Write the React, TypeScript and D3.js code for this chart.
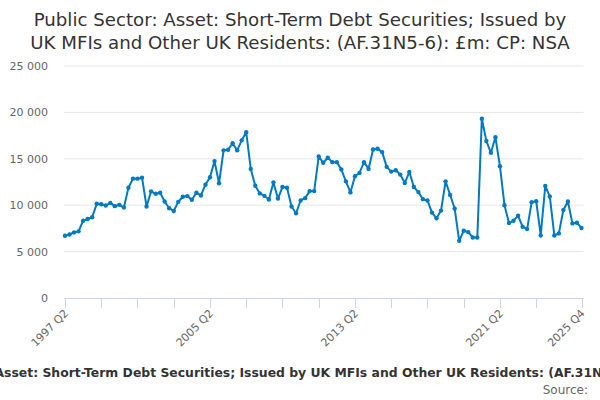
import React from 'react';
import * as d3 from 'd3';

// quarterly values, £m, 1997 Q2 .. 2025 Q4
const values = [
  6700, 6850, 7070, 7180, 8330, 8510, 8700, 10150, 10110, 9960,
  10250, 9900, 10040, 9750, 11880, 12860, 12860, 12970, 9860, 11490,
  11230, 11340, 10400, 9670, 9380, 10360, 10910, 10980, 10580, 11340,
  11050, 12210, 13010, 14750, 12360, 15910, 15980, 16670, 15910, 16990,
  17860, 13910, 12100, 11270, 11010, 10620, 12460, 10720, 11960, 11880,
  9860, 9130, 10510, 10760, 11520, 11520, 15250, 14570, 15110, 14640,
  14640, 13840, 12570, 11380, 13120, 13480, 14640, 13910, 16010, 16090,
  15720, 14130, 13620, 13770, 13300, 12390, 13590, 11960, 11410, 10650,
  10510, 9200, 8590, 9420, 12570, 11110, 9650, 6160, 7250, 7100,
  6520, 6520, 19310, 16920, 15650, 17320, 14200, 10000, 8080, 8330,
  8880, 7680, 7430, 10330, 10430, 6740, 12070, 10940, 6740, 6960,
  9490, 10400, 8040, 8110, 7540,
];

const startYear = 1997;
const startQuarter = 2;
const quarters = values.map((_, i) => {
  const q = startQuarter - 1 + i;
  return `${startYear + Math.floor(q / 4)} Q${(q % 4) + 1}`;
});

const yTicks = [0, 5000, 10000, 15000, 20000, 25000];
const tickIndexes = [0, 8, 16, 24, 32, 40, 48, 56, 64, 72, 80, 88, 96, 104, 114];
const labelled = ['1997 Q2', '2005 Q2', '2013 Q2', '2021 Q2', '2025 Q4'];

const titleLines = [
  'Public Sector: Asset: Short-Term Debt Securities; Issued by',
  'UK MFIs and Other UK Residents: (AF.31N5-6): £m: CP: NSA',
];
const axisTitle =
  'Public Sector: Asset: Short-Term Debt Securities; Issued by UK MFIs and Other UK Residents: (AF.31N5-6): £m: CP: NSA';

const W = 600;
const H = 400;
const left = 65;
const right = 581.5;
const top = 66;
const bottom = 298;
const font = '"DejaVu Sans", Verdana, sans-serif';
const blue = '#007ac3';

export default function App() {
  const x = d3.scaleLinear().domain([0, values.length - 1]).range([left, right]);
  const y = d3.scaleLinear().domain([0, 25000]).range([bottom, top]);
  const fmt = (v: number) => d3.format(',')(v).replace(/,/g, ' ');

  const line = d3
    .line<number>()
    .x((_, i) => x(i))
    .y((d) => y(d));

  return (
    <svg
      width={W}
      height={H}
      style={{ position: 'absolute', left: 0, top: 0, background: '#fff' }}
      fontFamily={font}
    >
      <rect width={W} height={H} fill="#fff" />
      {titleLines.map((t, i) => (
        <text key={i} x={W / 2} y={26 + i * 23} textAnchor="middle" fontSize={18.2} fill="#333">
          {t}
        </text>
      ))}

      {yTicks.map((t) => (
        <g key={t}>
          {t > 0 && <line x1={left - 1} x2={right + 2} y1={y(t)} y2={y(t)} stroke="#e6e6e6" />}
          <text x={48} y={y(t) + 4} textAnchor="end" fontSize={11} fill="#666">
            {fmt(t)}
          </text>
        </g>
      ))}

      <line x1={left - 1} x2={right + 2} y1={bottom + 0.5} y2={bottom + 0.5} stroke="#ccd6eb" />
      {tickIndexes.map((ti) => (
        <line
          key={ti}
          x1={Math.round(x(ti)) + 0.5}
          x2={Math.round(x(ti)) + 0.5}
          y1={bottom}
          y2={bottom + 10}
          stroke="#ccd6eb"
        />
      ))}
      {tickIndexes
        .filter((ti) => labelled.includes(quarters[ti]))
        .map((ti) => (
          <text
            key={ti}
            transform={`translate(${x(ti) + 4},${bottom + 16}) rotate(-45)`}
            textAnchor="end"
            fontSize={11}
            fill="#666"
          >
            {quarters[ti]}
          </text>
        ))}

      <path d={line(values) ?? ''} fill="none" stroke={blue} strokeWidth={2} strokeLinejoin="round" />
      {values.map((v, i) => (
        <circle key={i} cx={x(i)} cy={y(v)} r={2.2} fill={blue} />
      ))}

      <text x={310} y={377} textAnchor="middle" fontSize={12.4} fontWeight="bold" fill="#333">
        {axisTitle}
      </text>
      <text x={588} y={394} textAnchor="end" fontSize={12} fill="#666">
        Source:
      </text>
    </svg>
  );
}
